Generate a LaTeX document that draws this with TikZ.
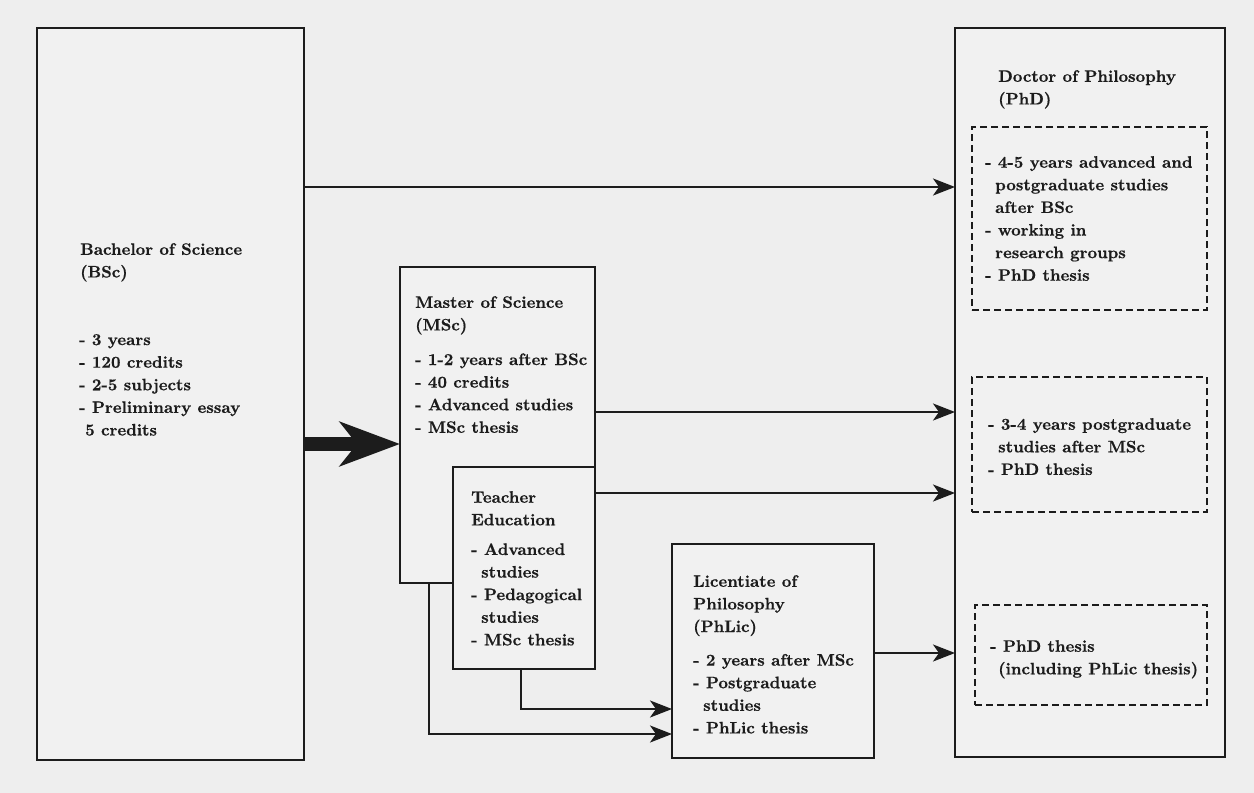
\documentclass[tikz,border=0pt]{standalone}
\usepackage{fontspec}
\setmainfont{lmroman10}[Extension=.otf, UprightFont=*-regular, BoldFont=*-bold, BoldFeatures={FakeBold=0.6}]
\usetikzlibrary{arrows.meta}
\definecolor{bg}{RGB}{238,238,238}
\definecolor{boxbg}{RGB}{241,241,241}
\definecolor{ink}{RGB}{28,28,28}
\tikzset{
  box/.style={draw=ink, line width=2.4pt, fill=boxbg, inner sep=0pt, outer sep=0pt, anchor=north west},
  dbox/.style={draw=ink, line width=1.8pt, dash pattern=on 7pt off 4pt, inner sep=0pt, outer sep=0pt, anchor=north west},
  txt/.style={anchor=north west, inner sep=0pt, align=left, text=ink, font=\fontsize{16.6}{22.6}\selectfont\bfseries},
  arr/.style={draw=ink, line width=2.4pt, -{Stealth[length=22pt,width=17pt,inset=6pt]}},
  bigarr/.style={draw=ink, line width=14pt, -{Stealth[length=60pt,width=44pt,inset=17pt]}},
}
\newcommand{\ind}{\hspace*{10pt}}
\begin{document}
\begin{tikzpicture}[x=1pt,y=-1pt]
\useasboundingbox (0,0) rectangle (1254,793);
\fill[bg] (0,0) rectangle (1254,793);
% boxes
\node[box, minimum width=267pt, minimum height=732pt] (bsc) at (37,28) {};
\node[box, minimum width=195pt, minimum height=316pt] (msc) at (400,267) {};
\node[box, minimum width=142pt, minimum height=202pt] (tea) at (453,467) {};
\node[box, minimum width=202pt, minimum height=214pt] (phl) at (672,544) {};
\node[box, minimum width=270pt, minimum height=729pt] (phd) at (955,28) {};
\node[dbox, minimum width=235pt, minimum height=183pt] (d1) at (972,127) {};
\node[dbox, minimum width=235pt, minimum height=135pt] (d2) at (972,377) {};
\node[dbox, minimum width=232pt, minimum height=100pt] (d3) at (975,605) {};
% texts
\node[txt] (bsch) at (80,243) {Bachelor of Science\\(BSc)};
\node[txt] (bscl) at (79,334) {- 3 years\\- 120 credits\\- 2-5 subjects\\- Preliminary essay\\\hspace*{6pt}5 credits};
\node[txt] (msct) at (415,296) {Master of Science\\(MSc)\\[12pt]- 1-2 years after BSc\\- 40 credits\\- Advanced studies\\- MSc thesis};
\node[txt] (teat) at (471,491) {Teacher\\Education\\[7pt]- Advanced\\\ind studies\\- Pedagogical\\\ind studies\\- MSc thesis};
\node[txt] (phlt) at (693,575) {Licentiate of\\Philosophy\\(PhLic)\\[11pt]- 2 years after MSc\\- Postgraduate\\\ind studies\\- PhLic thesis};
\node[txt] (phdt) at (998,70) {Doctor of Philosophy\\(PhD)};
\node[txt] (d1t) at (985,156) {- 4-5 years advanced and\\\ind postgraduate studies\\\ind after BSc\\- working in\\\ind research groups\\- PhD thesis};
\node[txt] (d2t) at (988,418) {- 3-4 years postgraduate\\\ind studies after MSc\\- PhD thesis};
\node[txt] (d3t) at (990,640) {- PhD thesis\\\hspace*{8pt}(including PhLic thesis)};
% helper coordinates
\coordinate (y1) at (0,187);
\coordinate (y2) at (0,412);
\coordinate (y3) at (0,493);
\coordinate (y4) at (0,444);
\coordinate (y5) at (0,653);
\coordinate (cx1) at (429,0);
\coordinate (cy1) at (0,734);
\coordinate (cx2) at (521,0);
\coordinate (cy2) at (0,709);
% connectors
\draw[arr] (bsc.east |- y1) -- (phd.west |- y1);
\draw[arr] (msc.east |- y2) -- (phd.west |- y2);
\draw[arr] (tea.east |- y3) -- (phd.west |- y3);
\draw[arr] (phl.east |- y5) -- (phd.west |- y5);
\draw[bigarr] (bsc.east |- y4) -- (msc.west |- y4);
\draw[arr] (msc.south -| cx1) |- (phl.west |- cy1);
\draw[arr] (tea.south -| cx2) |- (phl.west |- cy2);
\end{tikzpicture}
\end{document}
